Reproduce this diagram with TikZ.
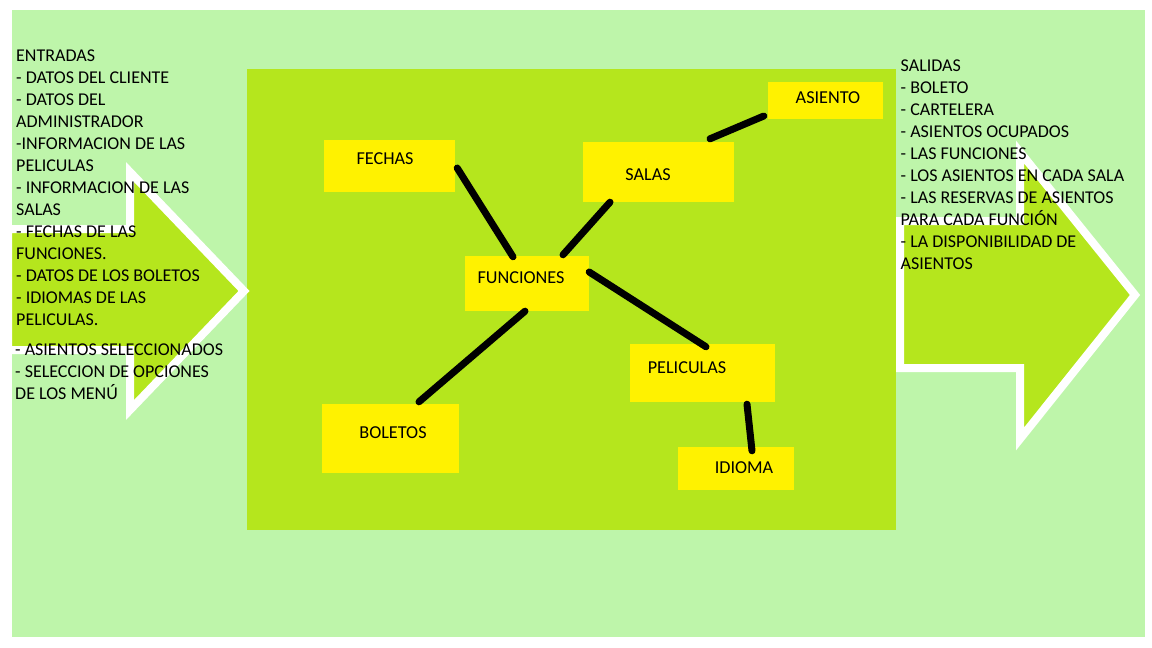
\documentclass[tikz,border=0pt]{standalone}
\usepackage{fontspec}
\setmainfont{Carlito}
\definecolor{bggreen}{RGB}{190,245,170}
\definecolor{limegreen}{RGB}{181,230,29}
\definecolor{boxyellow}{RGB}{255,242,0}
\begin{document}
\begin{tikzpicture}[x=1pt,y=-1pt,
  box/.style={fill=boxyellow, draw=none, inner sep=0pt},
  lbl/.style={font=\fontsize{18.2}{22}\selectfont, text=black, inner sep=0pt},
  link/.style={line width=7pt, line cap=round, draw=black},
  bigarrow/.style={fill=limegreen, draw=white, line width=8pt, line join=miter},
  listtext/.style={font=\fontsize{18}{22}\selectfont, align=left, anchor=north west, inner sep=0pt, text=black}]
\useasboundingbox (0,0) rectangle (1152,648);
\fill[white] (0,0) rectangle (1152,648);
\fill[bggreen] (12,10) rectangle (1145,637);
\fill[limegreen] (247,69) rectangle (896,530);
% arrows
\draw[bigarrow] (8,229) -- (130,229) -- (130,172) -- (244,291) -- (130,410) -- (130,350) -- (8,350) -- cycle;
\draw[bigarrow] (900,221) -- (1020,221) -- (1020,152) -- (1135,295) -- (1020,439) -- (1020,368) -- (900,368) -- cycle;
% boxes
\node[box, minimum width=131, minimum height=52] (fechas) at (389.5,166) {};
\node[box, minimum width=151, minimum height=60] (salas) at (658.5,172) {};
\node[box, minimum width=115, minimum height=37] (asiento) at (825.5,100.5) {};
\node[box, minimum width=124, minimum height=55] (funciones) at (527,283.5) {};
\node[box, minimum width=137, minimum height=69] (boletos) at (390.5,438.5) {};
\node[box, minimum width=145, minimum height=58] (peliculas) at (702.5,373) {};
\node[box, minimum width=116, minimum height=43] (idioma) at (736,468.5) {};
% labels
\node[lbl] (fechasT) at (385,159) {FECHAS};
\node[lbl] (salasT) at (648,175) {SALAS};
\node[lbl] (asientoT) at (828,98) {ASIENTO};
\node[lbl] (funcionesT) at (521,278) {FUNCIONES};
\node[lbl] (boletosT) at (393,433) {BOLETOS};
\node[lbl] (peliculasT) at (687,368) {PELICULAS};
\node[lbl] (idiomaT) at (744,468) {IDIOMA};
% connectors
\draw[link] ([shift={(2,2)}]fechas.east) -- ([shift={(-14,1)}]funciones.north);
\draw[link] ([shift={(-48.5,0)}]salas.south) -- ([shift={(36,-1)}]funciones.north);
\draw[link] ([shift={(51.5,-3)}]salas.north) -- ([shift={(-4,15.5)}]asiento.west);
\draw[link] ([shift={(0,-11.5)}]funciones.east) -- ([shift={(3.5,3)}]peliculas.north);
\draw[link] ([shift={(-2,0)}]funciones.south) -- ([shift={(28.5,-2)}]boletos.north);
\draw[link] ([shift={(44.5,2)}]peliculas.south) -- ([shift={(16,4)}]idioma.north);
% texts
\node[listtext] (entradas) at (16,49.7) {ENTRADAS\\- DATOS DEL CLIENTE\\- DATOS DEL\\ADMINISTRADOR\\-INFORMACION DE LAS\\PELICULAS\\- INFORMACION DE LAS\\SALAS\\- FECHAS DE LAS\\FUNCIONES.\\- DATOS DE LOS BOLETOS\\- IDIOMAS DE LAS\\PELICULAS.};
\node[listtext] (entradas2) at (15,343.2) {- ASIENTOS SELECCIONADOS\\- SELECCION DE OPCIONES\\DE LOS MENÚ};
\node[listtext] (salidas) at (900.5,59.2) {SALIDAS\\- BOLETO\\- CARTELERA\\- ASIENTOS OCUPADOS\\- LAS FUNCIONES\\- LOS ASIENTOS EN CADA SALA\\- LAS RESERVAS DE ASIENTOS\\PARA CADA FUNCIÓN\\- LA DISPONIBILIDAD DE\\ASIENTOS};
\end{tikzpicture}
\end{document}
